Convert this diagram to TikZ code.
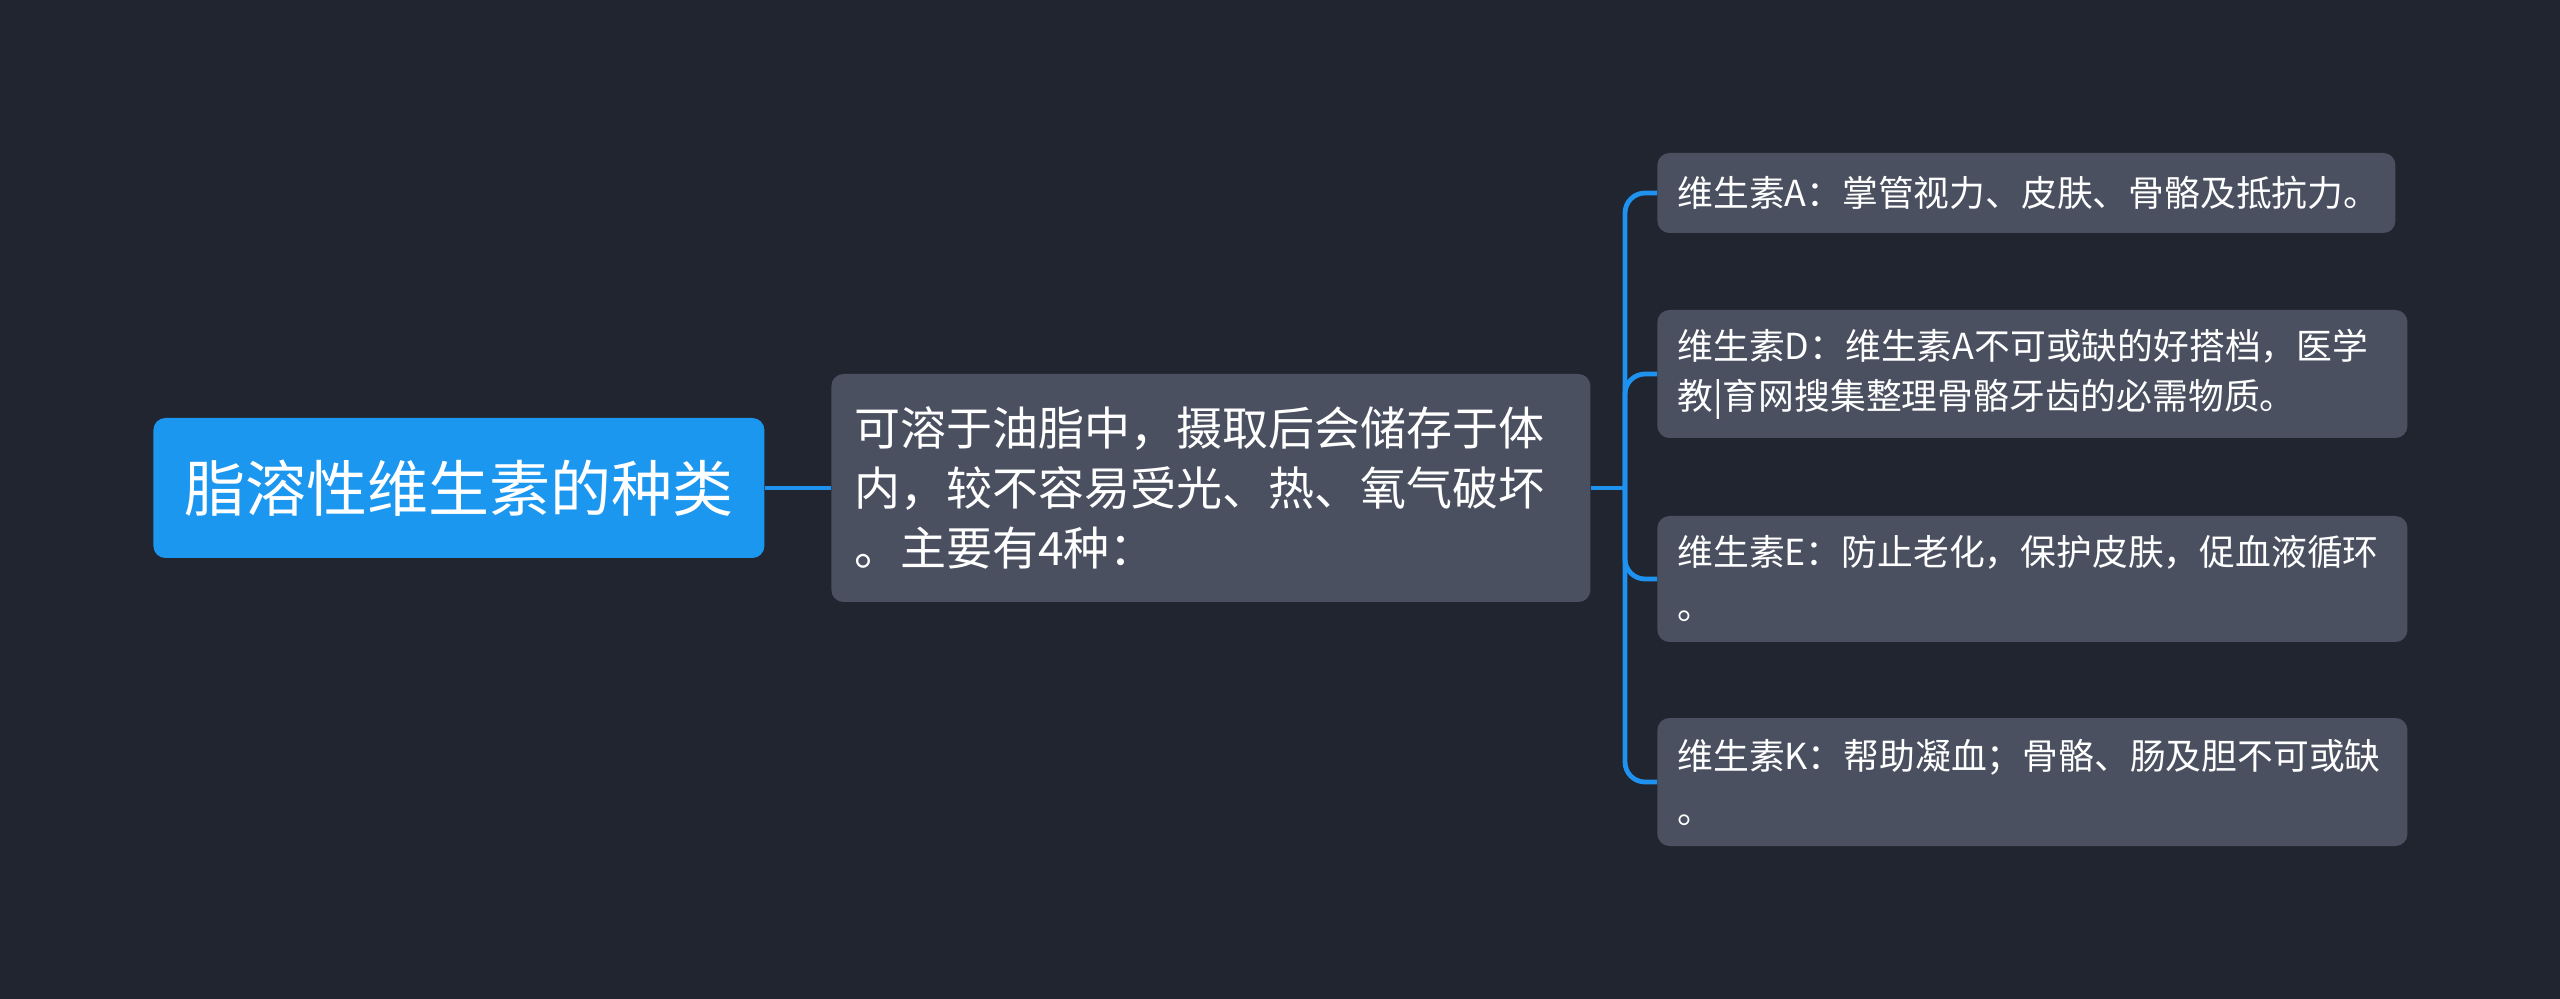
\documentclass[tikz,border=0pt]{standalone}
\usepackage{fontspec}
\setmainfont{Noto Sans CJK SC}
\definecolor{bgc}{HTML}{21252F}
\definecolor{boxc}{HTML}{4A5060}
\definecolor{rootc}{HTML}{1B97F0}
\definecolor{linec}{HTML}{1E92EE}
\tikzset{
  rootbox/.style={fill=rootc, rounded corners=6pt, text=white, anchor=west,
    inner xsep=0pt, inner ysep=0pt, align=center,
    font=\fontsize{30.5pt}{36pt}\selectfont},
  midbox/.style={fill=boxc, rounded corners=6pt, text=white, anchor=west,
    inner xsep=11.5pt, inner ysep=0pt, align=left,
    font=\fontsize{23pt}{30pt}\selectfont},
  leafbox/.style={fill=boxc, rounded corners=6pt, text=white, anchor=west,
    inner xsep=10pt, inner ysep=0pt, align=left,
    font=\fontsize{17.9pt}{25pt}\selectfont},
  conn/.style={draw=linec, line width=2.4pt},
}
\begin{document}
\begin{tikzpicture}[x=0.5pt,y=-0.5pt]
\fill[bgc] (0,0) rectangle (2560,999);
\useasboundingbox (0,0) rectangle (2560,999);
\node[rootbox, minimum width=305.5pt, minimum height=70pt] (root) at (153,488) {脂溶性维生素的种类};
\node[midbox, text width=356.5pt, minimum height=114pt] (mid) at (831,488)
  {可溶于油脂中，摄取后会储存于体\\内，较不容易受光、热、氧气破坏\\。主要有4种：};
\node[leafbox, text width=349pt, minimum height=40pt] (l1) at (1657,193)
  {维生素A：掌管视力、皮肤、骨骼及抵抗力。};
\node[leafbox, text width=355pt, minimum height=64pt] (l2) at (1657,374)
  {维生素D：维生素A不可或缺的好搭档，医学\\教|育网搜集整理骨骼牙齿的必需物质。};
\node[leafbox, text width=355pt, minimum height=63pt] (l3) at (1657,579)
  {维生素E：防止老化，保护皮肤，促血液循环\\[2pt]。};
\node[leafbox, text width=355pt, minimum height=64pt] (l4) at (1657,782)
  {维生素K：帮助凝血；骨骼、肠及胆不可或缺\\[2pt]。};
\coordinate (tr) at (1625,488);
\draw[conn] (root.east) -- (mid.west);
\draw[conn] (mid.east) -- (tr);
\foreach \n in {l1,l2,l3,l4}{
  \draw[conn, rounded corners=10pt] (tr) |- (\n.west);
}
\end{tikzpicture}
\end{document}
